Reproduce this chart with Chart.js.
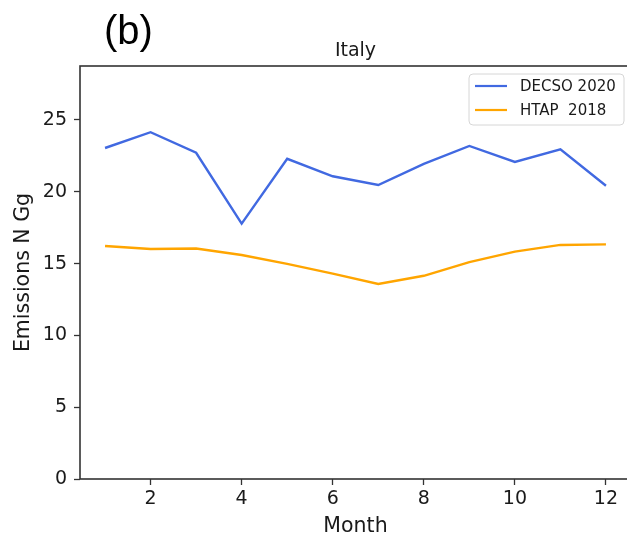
<!DOCTYPE html>
<html>
<head>
<meta charset="utf-8">
<script src="https://cdn.jsdelivr.net/npm/chart.js@4.4.1/dist/chart.umd.min.js"></script>
<style>
  html, body { margin: 0; padding: 0; overflow: hidden; background: #fff; }
  #wrap { width: 632px; height: 541px; }
</style>
</head>
<body>
<div id="wrap"><canvas id="italyChart"></canvas></div>
<script>
const months = [1, 2, 3, 4, 5, 6, 7, 8, 9, 10, 11, 12];
const decso2020 = [23.05, 24.15, 22.72, 17.78, 22.3, 21.08, 20.47, 21.95, 23.19, 22.08, 22.96, 20.42];
const htap2018 = [16.23, 16.02, 16.05, 15.6, 14.98, 14.3, 13.58, 14.15, 15.1, 15.83, 16.3, 16.34];
const xTicks = [2, 4, 6, 8, 10, 12];
const yTicks = [0, 5, 10, 15, 20, 25];
const seriesNames = ["DECSO 2020", "HTAP  2018"];
const seriesColors = ["#4169e1", "#ffa500"];

const FONT = "'DejaVu Sans', sans-serif";
const AXIS = "#333";
const TEXT = "#1a1a1a";

// frame, panel letter, title and legend drawn the matplotlib way
const decor = {
  id: "decor",
  afterDraw(chart) {
    const { ctx, chartArea: a } = chart;
    ctx.save();
    ctx.strokeStyle = AXIS;
    ctx.lineWidth = 1.6;
    ctx.strokeRect(a.left, a.top, a.right - a.left, a.bottom - a.top);

    ctx.fillStyle = "#000";
    ctx.textBaseline = "alphabetic";
    ctx.font = "40px 'Liberation Sans', sans-serif";
    ctx.textAlign = "left";
    ctx.fillText("(b)", a.left + 24, a.top - 22);
    ctx.font = "19px " + FONT;
    ctx.fillStyle = TEXT;
    ctx.textAlign = "center";
    ctx.fillText("Italy", (a.left + a.right) / 2, a.top - 10);

    // legend
    const bw = 155, bh = 51;
    const bx = a.right - 7 - bw, by = a.top + 8;
    ctx.beginPath();
    ctx.roundRect(bx, by, bw, bh, 4);
    ctx.fillStyle = "rgba(255,255,255,0.85)";
    ctx.fill();
    ctx.strokeStyle = "#d6d6d6";
    ctx.lineWidth = 1;
    ctx.stroke();
    ctx.font = "15px " + FONT;
    ctx.textAlign = "left";
    ctx.textBaseline = "middle";
    seriesNames.forEach((name, i) => {
      const y = by + 12 + i * 24;
      ctx.strokeStyle = seriesColors[i];
      ctx.lineWidth = 2.2;
      ctx.beginPath();
      ctx.moveTo(bx + 6, y);
      ctx.lineTo(bx + 38, y);
      ctx.stroke();
      ctx.fillStyle = TEXT;
      ctx.fillText(name, bx + 51, y + 1);
    });
    ctx.restore();
  }
};

new Chart(document.getElementById("italyChart"), {
  type: "line",
  data: {
    datasets: [decso2020, htap2018].map((vals, i) => ({
      label: seriesNames[i],
      data: months.map((m, j) => ({ x: m, y: vals[j] })),
      borderColor: seriesColors[i],
      borderWidth: 2.4,
      pointRadius: 0,
      tension: 0,
      fill: false
    }))
  },
  options: {
    responsive: true,
    maintainAspectRatio: false,
    animation: false,
    layout: { padding: { top: 66, right: 1, left: 0, bottom: 0 } },
    plugins: { legend: { display: false }, tooltip: { enabled: false } },
    scales: {
      x: {
        type: "linear",
        min: 0.45,
        max: 12.55,
        afterBuildTicks: s => { s.ticks = xTicks.map(v => ({ value: v })); },
        afterFit: s => { s.height = 62; },
        grid: { drawOnChartArea: false, drawTicks: true, tickLength: 6, tickColor: AXIS, tickWidth: 1.3 },
        border: { display: false },
        ticks: { color: TEXT, font: { family: FONT, size: 19 }, padding: 3, maxRotation: 0 },
        title: { display: true, text: "Month", color: TEXT, font: { family: FONT, size: 20.5 }, padding: { top: 0, bottom: 2 } }
      },
      y: {
        min: 0,
        max: 28.76,
        afterBuildTicks: s => { s.ticks = yTicks.map(v => ({ value: v })); },
        afterFit: s => { s.width = 80; },
        grid: { drawOnChartArea: false, drawTicks: true, tickLength: 6, tickColor: AXIS, tickWidth: 1.3 },
        border: { display: false },
        ticks: { color: TEXT, font: { family: FONT, size: 19 }, padding: 7 },
        title: { display: true, text: "Emissions N Gg", color: TEXT, font: { family: FONT, size: 20.5 }, padding: { top: 11, bottom: 0 } }
      }
    }
  },
  plugins: [decor]
});
</script>
</body>
</html>
